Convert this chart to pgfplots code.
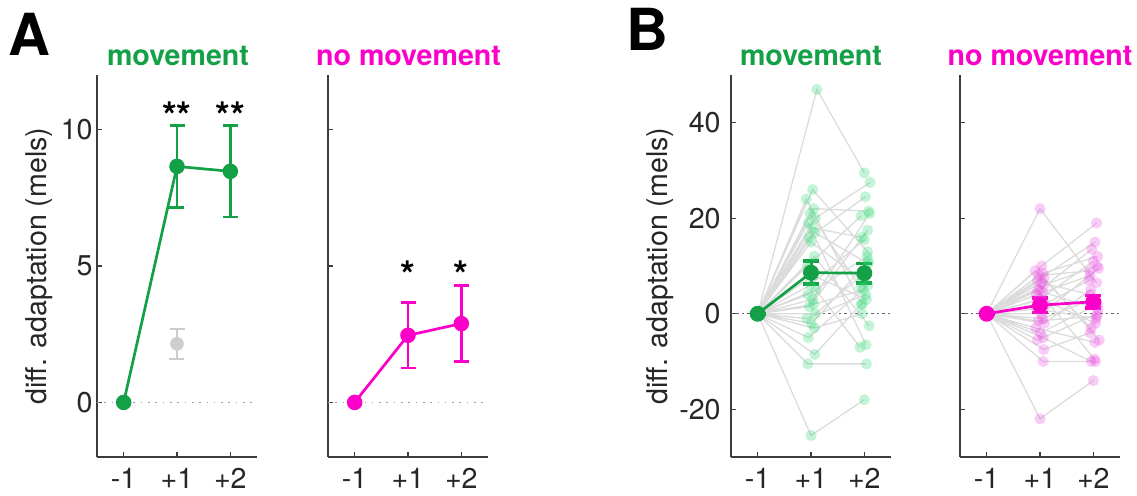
\documentclass[border=0pt]{standalone}
\usepackage{fontspec}
\setmainfont{TeX Gyre Heros}
\usepackage{pgfplots}
\usepackage{pgfplotstable}
\pgfplotsset{compat=1.18}
\definecolor{mgreen}{RGB}{20,160,70}
\definecolor{mmag}{RGB}{250,0,200}
\definecolor{pgreen}{RGB}{40,215,110}
\definecolor{pmag}{RGB}{235,70,225}
\definecolor{subjgray}{RGB}{220,220,220}
\definecolor{axgray}{RGB}{60,60,60}
\definecolor{graypt}{RGB}{205,205,205}
\newcommand\lblfont{\fontsize{14.3}{17}\selectfont}
\newcommand\starfont{\fontsize{19}{20}\selectfont\bfseries}

% individual subjects: -1, +1, +2 (nan = break between subjects)
\pgfplotstableread{
x y
0 0
1.11 47
2.00 29.5
0 nan
0 0
1.03 26
2.06 13
0 nan
0 0
0.91 24
1.96 2
0 nan
0 0
1.05 22
2.08 21.5
0 nan
0 0
0.98 21
1.93 5.5
0 nan
0 0
1.08 20
2.11 27.5
0 nan
0 0
0.95 19
2.03 -6.5
0 nan
0 0
1.02 18
1.95 16
0 nan
0 0
1.07 17
2.07 10.5
0 nan
0 0
0.96 16
2.02 24.5
0 nan
0 0
1.00 15
1.97 7
0 nan
0 0
1.06 12
2.09 -2.5
0 nan
0 0
0.93 10
1.94 20.5
0 nan
0 0
1.04 8
2.04 3
0 nan
0 0
0.99 6
2.00 15.5
0 nan
0 0
1.09 5
1.92 -7
0 nan
0 0
0.94 4
2.05 12
0 nan
0 0
1.03 3
2.10 21
0 nan
0 0
1.05 2
1.98 5
0 nan
0 0
0.97 1.5
2.06 17.5
0 nan
0 0
1.08 0
1.95 8
0 nan
0 0
0.92 -1
2.03 4
0 nan
0 0
1.01 -2
2.08 11
0 nan
0 0
1.06 -3
1.96 0
0 nan
0 0
0.95 -5
2.07 6
0 nan
0 0
1.07 -8.5
1.94 2
0 nan
0 0
0.94 -10.5
2.04 -10.5
0 nan
0 0
1.00 -25.5
2.00 -18
}\movdata

\pgfplotstableread{
x y
0 0
1.00 22
2.06 6.5
0 nan
0 0
1.03 10
2.06 19
0 nan
0 0
0.91 9
1.96 -3
0 nan
0 0
1.05 8.5
2.08 12
0 nan
0 0
0.98 8
1.93 9
0 nan
0 0
1.08 7.5
2.11 -5.5
0 nan
0 0
0.95 7
2.03 15
0 nan
0 0
1.02 6.5
1.95 4
0 nan
0 0
1.07 6
2.07 10
0 nan
0 0
0.96 5
2.02 -9.5
0 nan
0 0
1.00 5
1.97 13.5
0 nan
0 0
1.06 4.5
2.09 1
0 nan
0 0
0.93 4
1.94 8
0 nan
0 0
1.04 3
2.04 -2
0 nan
0 0
0.99 3
2.00 11
0 nan
0 0
1.09 2
1.92 7
0 nan
0 0
0.94 1
2.05 -1
0 nan
0 0
1.03 0
2.10 9.5
0 nan
0 0
1.05 -1
1.98 3
0 nan
0 0
0.97 -1.5
2.06 -0.5
0 nan
0 0
1.08 -2
1.95 5
0 nan
0 0
0.92 -3
2.03 -6
0 nan
0 0
1.01 -4
2.08 2
0 nan
0 0
1.06 -5
1.96 -10
0 nan
0 0
0.95 -5.5
2.07 0
0 nan
0 0
1.07 -7.5
1.94 -4
0 nan
0 0
1.06 -10
2.04 -10
0 nan
0 0
1.00 -22
2.00 -14
}\nomovdata

\pgfplotsset{
  myaxis/.style={
    scale only axis, width=80pt, height=191pt,
    xmin=-0.5, xmax=2.5,
    axis x line*=bottom, axis y line*=left,
    axis line style={-, axgray, line width=0.6pt},
    xtick={0,1,2}, xticklabels={-1,+1,+2},
    tick align=inside, major tick length=2.5pt,
    tick style={axgray, line width=0.6pt},
    ticklabel style={font=\lblfont, text=black!85},
    xticklabel style={anchor=north, inner sep=0pt, yshift=-5.5pt},
    yticklabel style={anchor=east, inner sep=0pt},
    /pgf/number format/assume math mode=true,
    ylabel style={font=\lblfont, text=black!85, anchor=south, inner sep=0pt},
    clip=false,
    anchor=south west,
  },
  meanA/.style={line width=1.35pt, mark=*, mark size=3.2pt, mark options={solid, fill=#1, draw=#1},
    error bars/.cd, y dir=both, y explicit,
    error bar style={line width=1.3pt, #1},
    error mark options={rotate=90, mark size=3.75pt, line width=1.3pt, #1}},
  meanB/.style={line width=1.35pt, mark=*, mark size=3.3pt, mark options={solid, fill=#1, draw=#1},
    error bars/.cd, y dir=both, y explicit,
    error bar style={line width=1.5pt, #1},
    error mark options={rotate=90, mark size=4pt, line width=1.8pt, #1}},
  subj/.style={subjgray, line width=0.65pt, unbounded coords=jump, no markers},
  pts/.style={color=#1, only marks, mark=*, mark size=2.8pt, mark options={draw opacity=0, fill=#1, fill opacity=0.28}},
}

\begin{document}
\begin{tikzpicture}[x=1pt,y=1pt]
\path[use as bounding box] (0,0) rectangle (568.5,247.5);

% ---------- A: movement
\begin{axis}[myaxis, at={(48.5pt,19pt)}, ymin=-2, ymax=12, ytick={0,5,10},
  yticklabel style={xshift=-2pt},
  ylabel={diff. adaptation (mels)}, ylabel style={at={(rel axis cs:-0.272,0.5)}}]
\addplot[gray!75, line width=0.8pt, dash pattern=on 0.8pt off 2.85pt] coordinates {(-0.5,0) (2.45,0)};
\addplot[graypt, only marks, mark=*, mark size=3.2pt, mark options={fill=graypt, draw=graypt},
  error bars/.cd, y dir=both, y explicit, error bar style={line width=1pt, graypt},
  error mark options={rotate=90, mark size=3.75pt, line width=1pt, graypt}]
  coordinates {(1,2.15) +- (0,0.55)};
\addplot[mgreen, meanA=mgreen] coordinates {(0,0) +- (0,0) (1,8.65) +- (0,1.5) (2,8.47) +- (0,1.68)};
\node[anchor=base] at (axis cs:1,10.0) {\starfont **};
\node[anchor=base] at (axis cs:2,10.0) {\starfont **};
\end{axis}

% ---------- A: no movement
\begin{axis}[myaxis, at={(164pt,19pt)}, ymin=-2, ymax=12, ytick={0,5,10}, yticklabels={}]
\addplot[gray!75, line width=0.8pt, dash pattern=on 0.8pt off 2.85pt] coordinates {(-0.5,0) (2.45,0)};
\addplot[mmag, meanA=mmag] coordinates {(0,0) +- (0,0) (1,2.46) +- (0,1.2) (2,2.89) +- (0,1.39)};
\node[anchor=base] at (axis cs:1,4.17) {\starfont *};
\node[anchor=base] at (axis cs:2,4.17) {\starfont *};
\end{axis}

% ---------- B: movement
\begin{axis}[myaxis, at={(365.5pt,19pt)}, ymin=-30, ymax=50, ytick={-20,0,20,40},
  yticklabel style={xshift=-5pt},
  ylabel={diff. adaptation (mels)}, ylabel style={at={(rel axis cs:-0.356,0.5)}}]
\addplot[black!60, line width=0.45pt, dash pattern=on 1.2pt off 1.5pt] coordinates {(-0.5,0) (2.5,0)};
\addplot[subj] table {\movdata};
\addplot[pts=pgreen] table {\movdata};
\addplot[mgreen, meanB=mgreen] coordinates {(0,0) +- (0,0) (1,8.6) +- (0,2.4) (2,8.5) +- (0,2.0)};
\end{axis}

% ---------- B: no movement
\begin{axis}[myaxis, at={(480pt,19pt)}, ymin=-30, ymax=50, ytick={-20,0,20,40}, yticklabels={}]
\addplot[black!60, line width=0.45pt, dash pattern=on 1.2pt off 1.5pt] coordinates {(-0.5,0) (2.5,0)};
\addplot[subj] table {\nomovdata};
\addplot[pts=pmag] table {\nomovdata};
\addplot[mmag, meanB=mmag] coordinates {(0,0) +- (0,0) (1,1.8) +- (0,1.5) (2,2.5) +- (0,1.3)};
\end{axis}

% titles and panel letters
\node[anchor=base, font=\fontsize{14.3}{17}\selectfont\bfseries, text=mgreen] at (89,215) {movement};
\node[anchor=base, font=\fontsize{14.3}{17}\selectfont\bfseries, text=mmag] at (204.25,215) {no movement};
\node[anchor=base, font=\fontsize{14.3}{17}\selectfont\bfseries, text=mgreen] at (405.5,215) {movement};
\node[anchor=base, font=\fontsize{14.3}{17}\selectfont\bfseries, text=mmag] at (520,215) {no movement};
\node[anchor=base west, inner sep=0pt, font=\fontsize{29}{30}\selectfont\bfseries] at (4,220) {A};
\node[anchor=base west, inner sep=0pt, font=\fontsize{29}{30}\selectfont\bfseries] at (313,222.5) {B};
\end{tikzpicture}
\end{document}
